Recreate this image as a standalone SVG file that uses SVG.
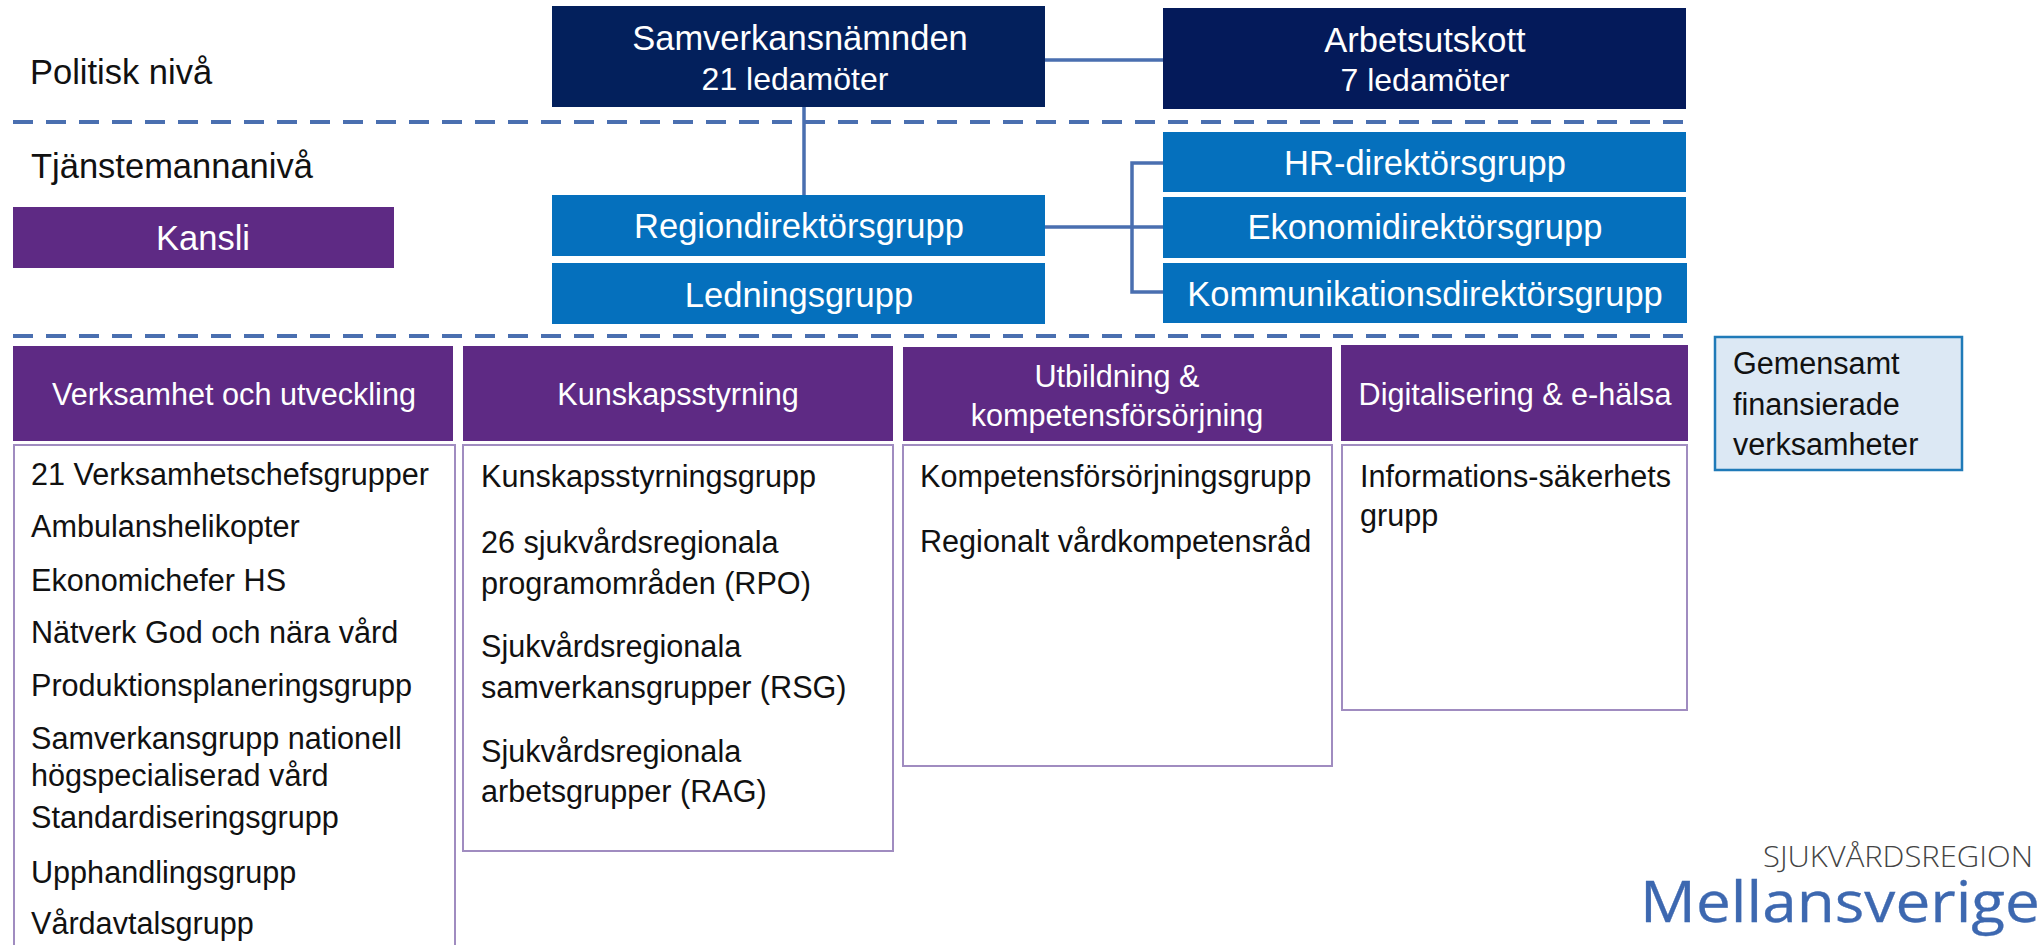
<svg xmlns="http://www.w3.org/2000/svg" width="2044" height="945" viewBox="0 0 2044 945">
<style>
text{font-family:"Liberation Sans",Arial,sans-serif;font-size:30.6px;fill:#111}
.w{fill:#fff;text-anchor:middle}
.b{font-size:34.5px}
.m{font-size:32px}
.navy{fill:#03205c}
.blue{fill:#0570bd}
.pur{fill:#5e2a84}
.list{fill:#fff;stroke:#a08cc0;stroke-width:2}
.con{fill:none;stroke:#4a6fb0;stroke-width:3.5}
.dash{stroke:#4a6fb0;stroke-width:4;stroke-dasharray:20 13;fill:none}
</style>
<rect width="2044" height="945" fill="#fff"/>
<g id="connectors">
<path class="dash" d="M13 122H1688M13 336H1688"/>
<path class="con" d="M1045 60H1163M804 107V195M1045 227H1163M1163 163H1132V292H1163"/>
</g>
<g id="levels">
<text x="30" y="84" class="b">Politisk nivå</text>
<text x="31" y="178" class="b">Tjänstemannanivå</text>
</g>
<g id="kansli"><rect class="pur" x="13" y="207" width="381" height="61"/><text class="w b" x="203" y="250">Kansli</text></g>
<g id="samverkansnamnden"><rect class="navy" x="552" y="6" width="493" height="101"/><text class="w b" x="800" y="50">Samverkansnämnden</text><text class="w m" x="795" y="90">21 ledamöter</text></g>
<g id="arbetsutskott"><rect class="navy" x="1163" y="8" width="523" height="101" style="fill:#041a5a"/><text class="w b" x="1425" y="52">Arbetsutskott</text><text class="w m" x="1425" y="91">7 ledamöter</text></g>
<g id="regiondirektorsgrupp"><rect class="blue" x="552" y="195" width="493" height="61"/><text class="w b" x="799" y="238">Regiondirektörsgrupp</text></g>
<g id="ledningsgrupp"><rect class="blue" x="552" y="263" width="493" height="61"/><text class="w b" x="799" y="307">Ledningsgrupp</text></g>
<g id="hr"><rect class="blue" x="1163" y="132" width="523" height="60"/><text class="w b" x="1425" y="175">HR-direktörsgrupp</text></g>
<g id="ekonomi"><rect class="blue" x="1163" y="197" width="523" height="61"/><text class="w b" x="1425" y="239">Ekonomidirektörsgrupp</text></g>
<g id="kommunikation"><rect class="blue" x="1163" y="263" width="524" height="60"/><text class="w b" x="1425" y="306">Kommunikationsdirektörsgrupp</text></g>
<g id="verksamhet">
<rect class="pur" x="13" y="346" width="440" height="95"/><text class="w" x="234" y="405">Verksamhet och utveckling</text>
<rect class="list" x="14" y="445" width="441" height="510"/>
<text x="31" y="485">21 Verksamhetschefsgrupper</text>
<text x="31" y="537">Ambulanshelikopter</text>
<text x="31" y="591">Ekonomichefer HS</text>
<text x="31" y="643">Nätverk God och nära vård</text>
<text x="31" y="696">Produktionsplaneringsgrupp</text>
<text x="31" y="749">Samverkansgrupp nationell</text>
<text x="31" y="786">högspecialiserad vård</text>
<text x="31" y="828">Standardiseringsgrupp</text>
<text x="31" y="883">Upphandlingsgrupp</text>
<text x="31" y="934">Vårdavtalsgrupp</text>
</g>
<g id="kunskapsstyrning">
<rect class="pur" x="463" y="346" width="430" height="95"/><text class="w" x="678" y="405">Kunskapsstyrning</text>
<rect class="list" x="463" y="445" width="430" height="406"/>
<text x="481" y="487">Kunskapsstyrningsgrupp</text>
<text x="481" y="553">26 sjukvårdsregionala</text>
<text x="481" y="594">programområden (RPO)</text>
<text x="481" y="657">Sjukvårdsregionala</text>
<text x="481" y="698">samverkansgrupper (RSG)</text>
<text x="481" y="762">Sjukvårdsregionala</text>
<text x="481" y="802">arbetsgrupper (RAG)</text>
</g>
<g id="utbildning">
<rect class="pur" x="903" y="347" width="429" height="94"/><text class="w" x="1117" y="387">Utbildning &amp;</text><text class="w" x="1117" y="426">kompetensförsörjning</text>
<rect class="list" x="903" y="445" width="429" height="321"/>
<text x="920" y="487">Kompetensförsörjningsgrupp</text>
<text x="920" y="552">Regionalt vårdkompetensråd</text>
</g>
<g id="digitalisering">
<rect class="pur" x="1341" y="345" width="347" height="96"/><text class="w" x="1515" y="405">Digitalisering &amp; e-hälsa</text>
<rect class="list" x="1342" y="445" width="345" height="265"/>
<text x="1360" y="487">Informations-säkerhets</text>
<text x="1360" y="526">grupp</text>
</g>
<g id="gemensamt"><rect x="1715" y="337" width="247" height="133" fill="#dce8f4" stroke="#1f7ab8" stroke-width="2.5"/>
<text x="1733" y="374">Gemensamt</text><text x="1733" y="415">finansierade</text><text x="1733" y="455">verksamheter</text></g>
<g id="logo">
<text x="1763" y="867" textLength="270" lengthAdjust="spacingAndGlyphs" style="font-family:'Open Sans',sans-serif;font-size:29px;font-weight:300;fill:#444">SJUKVÅRDSREGION</text>
<text x="1640" y="922" textLength="400" lengthAdjust="spacingAndGlyphs" style="font-family:'Open Sans',sans-serif;font-size:57px;fill:#3d68b0;stroke:#3d68b0;stroke-width:.3">Mellansverige</text>
</g>
</svg>
